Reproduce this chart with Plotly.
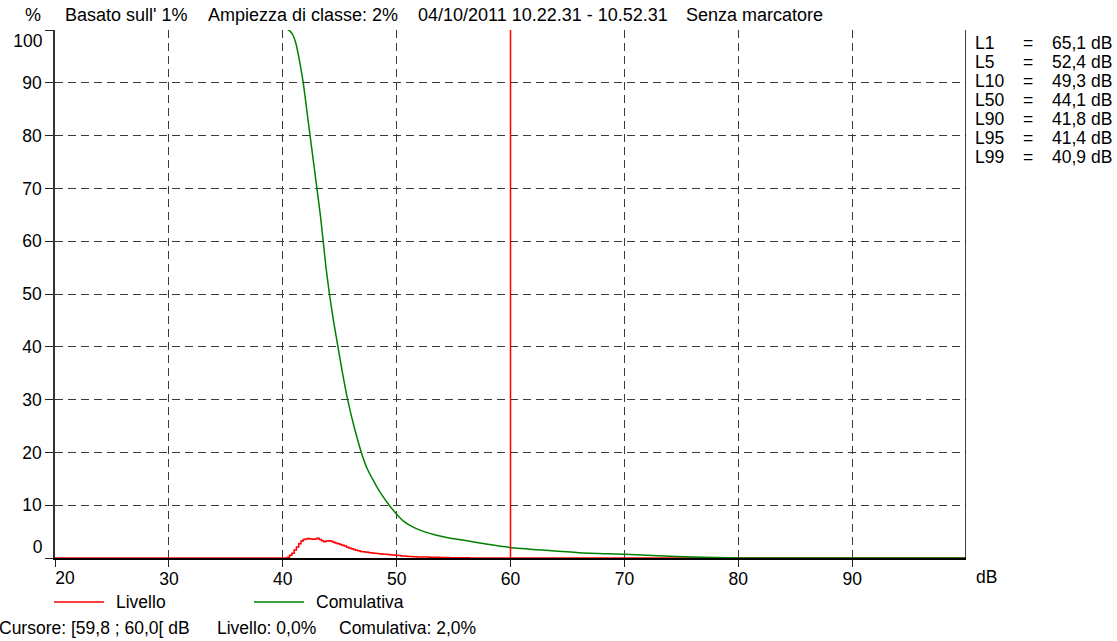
import plotly.graph_objects as go

# ---------------- data ----------------
# Level distribution ("Livello"), % per 0.2 dB class, starting at 40.2 dB
livello_start_db = 40.2
livello_class_db = 0.2
livello_pct = [0.0, 0.15, 0.5, 0.9, 1.5, 2.1, 2.7, 3.2, 3.5, 3.6, 3.7, 3.6, 3.55, 3.6,
               3.75, 3.5, 3.25, 3.1, 3.2, 3.25, 3.15, 3.0, 2.85, 2.7, 2.55, 2.4, 2.25,
               2.05, 1.9, 1.75, 1.6, 1.45, 1.35, 1.25, 1.2, 1.15, 1.1, 1.0, 0.95, 0.9,
               0.85, 0.8, 0.75, 0.72, 0.7, 0.65, 0.6, 0.55, 0.5, 0.48, 0.45, 0.4, 0.36,
               0.33, 0.3, 0.28, 0.25, 0.23, 0.21, 0.2, 0.19, 0.18, 0.17, 0.16, 0.15,
               0.14, 0.13, 0.12, 0.11, 0.1, 0.09, 0.08, 0.07, 0.06, 0.06, 0.05, 0.05,
               0.04, 0.04, 0.03, 0.03, 0.0]

# Cumulative curve ("Comulativa")
cum_db = [40.45, 40.65, 40.9, 41.15, 41.4, 41.6, 41.8, 42.1, 42.4, 42.7, 43.0, 43.3,
          43.55, 43.8, 44.1, 44.45, 44.85, 45.25, 45.7, 46.25, 46.9, 47.4, 48.0, 48.5,
          49.35, 50.0, 50.6, 51.5, 52.4, 53.5, 54.6, 55.8, 58.0, 60.0, 63.1, 66.0, 70.0,
          74.0, 78.0, 80.0, 100.0]
cum_pct = [100.0, 99.8, 99.0, 97.5, 95.0, 92.6, 90.0, 85.0, 80.0, 75.0, 70.0, 65.0,
           60.0, 55.0, 50.0, 45.0, 40.0, 35.0, 30.0, 25.0, 20.0, 17.0, 14.5, 12.6,
           10.0, 8.3, 7.0, 5.8, 5.0, 4.3, 3.8, 3.4, 2.6, 2.0, 1.45, 1.0, 0.7,
           0.35, 0.08, 0.0, 0.0]

cursor_db = 60.0
x_range = [20, 100]
y_range = [0, 100]
x_ticks = [20, 30, 40, 50, 60, 70, 80, 90]
y_ticks = [0, 10, 20, 30, 40, 50, 60, 70, 80, 90, 100]

stat_names = ["L1", "L5", "L10", "L50", "L90", "L95", "L99"]
stat_values = ["65,1 dB", "52,4 dB", "49,3 dB", "44,1 dB", "41,8 dB", "41,4 dB", "40,9 dB"]

title_parts = ["Basato sull' 1%", "Ampiezza di classe: 2%",
               "04/10/2011 10.22.31 - 10.52.31", "Senza marcatore"]
cursor_parts = ["Cursore: [59,8 ; 60,0[ dB", "Livello: 0,0%", "Comulativa: 2,0%"]
series_names = ["Livello", "Comulativa"]

RED = "#FF0000"
GREEN = "#008000"
FONT = "Liberation Sans, Arial, sans-serif"
FS = 17.5

# ---------------- layout helpers ----------------
W, H = 1117, 641
L, R, T, B = 55, 151, 30, 83
PW, PH = W - L - R, H - T - B


def px(x):
    return (x - L) / PW


def py(y):
    return (H - B - y) / PH


# ---------------- figure ----------------
liv_x = [x_range[0]] + [livello_start_db + i * livello_class_db for i in range(len(livello_pct))] + [x_range[1]]
liv_y = [0.0] + livello_pct + [0.0]

fig = go.Figure()
fig.add_trace(go.Scatter(x=liv_x, y=liv_y, mode="lines", name=series_names[0],
                         line=dict(color=RED, width=1.5, shape="hv"), showlegend=False))
fig.add_trace(go.Scatter(x=cum_db, y=cum_pct, mode="lines", name=series_names[1],
                         line=dict(color=GREEN, width=1.5, shape="spline", smoothing=0.6),
                         showlegend=False))

grid_style = dict(showgrid=True, gridcolor="#3a3a3a", gridwidth=1.2, griddash="8px,5px")

fig.update_layout(
    width=W, height=H,
    margin=dict(l=L, r=R, t=T, b=B, pad=0),
    paper_bgcolor="white", plot_bgcolor="white",
    font=dict(family=FONT, size=FS, color="black"),
    xaxis=dict(range=x_range, tickmode="array", tickvals=x_ticks,
               ticktext=[""] + [str(v) for v in x_ticks[1:]],
               ticks="outside", ticklen=7, tickwidth=1.2, tickcolor="#222",
               ticklabelstandoff=-3,
               showline=True, linecolor="black", linewidth=1.5, zeroline=False,
               tickfont=dict(size=FS), **grid_style),
    xaxis2=dict(range=x_range, overlaying="x", anchor="y", side="bottom",
                tickmode="array", tickvals=[x_ticks[0]], ticktext=[str(x_ticks[0])],
                ticks="outside", ticklen=7, tickcolor="rgba(0,0,0,0)",
                ticklabelstandoff=-3, ticklabelshift=10, showgrid=False,
                showline=False, zeroline=False, tickfont=dict(size=FS)),
    yaxis=dict(range=y_range, tickmode="array", tickvals=y_ticks,
               ticktext=[""] + [str(v) for v in y_ticks[1:-1]] + [""],
               ticks="outside", ticklen=8, tickwidth=1.2, tickcolor="#222",
               showline=True, linecolor="#333", linewidth=1.5, zeroline=False,
               tickfont=dict(size=FS), **grid_style),
    yaxis2=dict(range=y_range, overlaying="y", anchor="x", side="left",
                tickmode="array", tickvals=[y_ticks[-1]], ticktext=[str(y_ticks[-1])],
                ticks="outside", ticklen=8, tickcolor="rgba(0,0,0,0)",
                ticklabelshift=11, showgrid=False,
                showline=False, zeroline=False, tickfont=dict(size=FS)),
    yaxis3=dict(range=y_range, overlaying="y", anchor="x", side="left",
                tickmode="array", tickvals=[y_ticks[0]], ticktext=[str(y_ticks[0])],
                ticks="outside", ticklen=8, tickcolor="rgba(0,0,0,0)",
                ticklabelshift=-11, showgrid=False,
                showline=False, zeroline=False, tickfont=dict(size=FS)),
)

# invisible carriers so the overlay axes are drawn
fig.add_trace(go.Scatter(x=[None], y=[None], xaxis="x2", yaxis="y", showlegend=False, hoverinfo="skip"))
fig.add_trace(go.Scatter(x=[None], y=[None], xaxis="x", yaxis="y2", showlegend=False, hoverinfo="skip"))
fig.add_trace(go.Scatter(x=[None], y=[None], xaxis="x", yaxis="y3", showlegend=False, hoverinfo="skip"))

# right border and cursor
fig.add_shape(type="line", xref="x", yref="paper", x0=x_range[1], x1=x_range[1], y0=0, y1=1,
              line=dict(color="black", width=1.5))
fig.add_shape(type="line", xref="x", yref="y", x0=cursor_db, x1=cursor_db, y0=y_range[0], y1=y_range[1],
              line=dict(color=RED, width=1.5), layer="above")

ann = []
# header
ann.append(dict(text="%", x=px(33), y=py(15), xanchor="center", size=18))
for txt, left in zip(title_parts, [63, 206, 416, 684]):
    ann.append(dict(text=txt, x=px(left), y=py(15), xanchor="left", size=18))
# x unit
ann.append(dict(text="dB", x=px(987), y=py(577), xanchor="center"))
# statistics on the right
for i, (n, v) in enumerate(zip(stat_names, stat_values)):
    yy = py(43 + 19 * i)
    ann.append(dict(text=n, x=px(973), y=yy, xanchor="left"))
    ann.append(dict(text="=", x=px(1021), y=yy, xanchor="left"))
    ann.append(dict(text=v, x=px(1050), y=yy, xanchor="left"))
# legend (manual)
for name, col, x0, tx in zip(series_names, [RED, GREEN], [54, 254], [114, 314]):
    fig.add_shape(type="line", xref="paper", yref="paper", x0=px(x0), x1=px(x0 + 50),
                  y0=py(602), y1=py(602), line=dict(color=col, width=1.3))
    ann.append(dict(text=name, x=px(tx), y=py(602), xanchor="left"))
# cursor info line
for txt, left in zip(cursor_parts, [-3, 215, 337]):
    ann.append(dict(text=txt, x=px(left), y=py(628), xanchor="left"))

final = []
for a in ann:
    size = a.pop("size", FS)
    a.update(xref="paper", yref="paper", yanchor="middle", showarrow=False,
             font=dict(family=FONT, size=size, color="black"))
    final.append(a)
fig.update_layout(annotations=final)

fig.write_html("out.html", config={"displayModeBar": False},
               post_script="document.body.style.margin='0';")
